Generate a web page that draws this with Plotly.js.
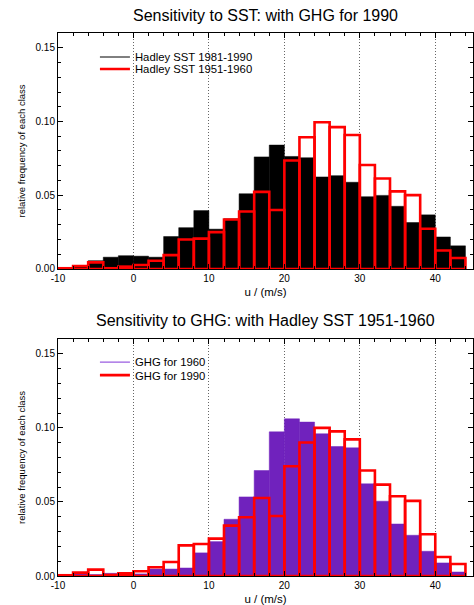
<!DOCTYPE html>
<html>
<head>
<meta charset="utf-8">
<script src="https://cdn.plot.ly/plotly-3.0.1.min.js"></script>
<style>html,body{margin:0;padding:0;background:#fff;}#chart{width:474px;height:605px;}</style>
</head>
<body>
<div id="chart"></div>
<script>
// bin centres (bin width 2, from -10 to 44)
const binCentres = [-9,-7,-5,-3,-1,1,3,5,7,9,11,13,15,17,19,21,23,25,27,29,31,33,35,37,39,41,43];
// top panel: Sensitivity to SST (with GHG for 1990)
const hadley1981_1990 = [0.001,0.002,0.0056,0.008,0.009,0.0087,0.008,0.022,0.028,0.0396,0.027,0.034,0.051,0.076,0.084,0.0763,0.0754,0.0624,0.0633,0.0588,0.049,0.0499,0.0425,0.0315,0.0367,0.0217,0.0157];
const hadley1951_1960 = [0.0005,0.002,0.0045,0.0005,0.0016,0.0027,0.0056,0.0094,0.020,0.0206,0.025,0.0336,0.039,0.0523,0.040,0.0736,0.0893,0.0995,0.0962,0.0908,0.0705,0.0613,0.0526,0.0501,0.0273,0.0125,0.0074];
// bottom panel: Sensitivity to GHG (with Hadley SST 1951-1960)
const ghg1960 = [0.0005,0.002,0.001,0.0018,0.0016,0.0014,0.0047,0.0047,0.0054,0.0156,0.0232,0.0383,0.0534,0.0712,0.0973,0.1061,0.1039,0.096,0.0874,0.0865,0.0622,0.0505,0.0351,0.0275,0.0167,0.0088,0.0027];
const ghg1990 = [0.0005,0.0023,0.0043,0.0007,0.0018,0.0032,0.0059,0.0095,0.0207,0.0216,0.0252,0.034,0.0397,0.0527,0.0405,0.0741,0.0901,0.1,0.0976,0.0922,0.0712,0.0617,0.0538,0.0507,0.0282,0.0128,0.0081];
const xTicks = [-10,0,10,20,30,40];
const yTicks = [0,0.05,0.10,0.15];
const titleTop = 'Sensitivity to SST: with GHG for 1990';
const titleBottom = 'Sensitivity to GHG: with Hadley SST 1951-1960';
const xLabel = 'u / (m/s)';
const yLabel = 'relative frequency of each class';
const seriesNames = ['Hadley SST 1981-1990','Hadley SST 1951-1960','GHG for 1960','GHG for 1990'];

const RED = '#ff0000', PURPLE = '#7022bd';
const FONT = 'Liberation Sans, Arial, sans-serif';

const traces = [
  {type:'bar', x:binCentres, y:hadley1981_1990, width:2, xaxis:'x', yaxis:'y', showlegend:false,
   marker:{color:'#000', line:{color:'#000', width:0.5}}},
  {type:'bar', x:binCentres, y:hadley1951_1960, width:2, xaxis:'x', yaxis:'y', showlegend:false,
   marker:{color:'rgba(0,0,0,0)', line:{color:RED, width:2.6}}},
  {type:'scatter', mode:'lines', x:[null], y:[null], xaxis:'x', yaxis:'y', name:seriesNames[0],
   line:{color:'#000', width:1}, legend:'legend'},
  {type:'scatter', mode:'lines', x:[null], y:[null], xaxis:'x', yaxis:'y', name:seriesNames[1],
   line:{color:RED, width:2.6}, legend:'legend2'},
  {type:'bar', x:binCentres, y:ghg1960, width:2, xaxis:'x2', yaxis:'y2', showlegend:false,
   marker:{color:PURPLE, line:{color:PURPLE, width:0.5}}},
  {type:'bar', x:binCentres, y:ghg1990, width:2, xaxis:'x2', yaxis:'y2', showlegend:false,
   marker:{color:'rgba(0,0,0,0)', line:{color:RED, width:2.6}}},
  {type:'scatter', mode:'lines', x:[null], y:[null], xaxis:'x2', yaxis:'y2', name:seriesNames[2],
   line:{color:'#9a5ce0', width:1.2}, legend:'legend3'},
  {type:'scatter', mode:'lines', x:[null], y:[null], xaxis:'x2', yaxis:'y2', name:seriesNames[3],
   line:{color:RED, width:2.6}, legend:'legend4'}
];

function xa(anchor){
  return {range:[-10,45], tickvals:xTicks, ticktext:xTicks.map(String), ticks:'inside', ticklen:5,
    tickcolor:'#000', showline:true, linecolor:'#000', linewidth:1, mirror:'allticks',
    showgrid:true, gridcolor:'#666', griddash:'1px,2px', gridwidth:1, zeroline:false,
    minor:{dtick:2, tick0:0, ticks:'inside', ticklen:3, tickcolor:'#000', showgrid:false},
    tickfont:{family:FONT, size:10, color:'#000'}, anchor:anchor,
    title:{text:xLabel, font:{family:FONT, size:11.5, color:'#000'}, standoff:4}};
}
function ya(domain, anchor){
  return {domain:domain, range:[0,0.16], tickvals:yTicks, ticktext:yTicks.map(v=>v.toFixed(2)),
    ticks:'inside', ticklen:5, tickcolor:'#000', showline:true, linecolor:'#000', linewidth:1,
    mirror:'allticks', showgrid:false, zeroline:false, anchor:anchor,
    minor:{dtick:0.01, tick0:0, ticks:'inside', ticklen:3, tickcolor:'#000', showgrid:false},
    tickfont:{family:FONT, size:10, color:'#000'},
    title:{text:yLabel, font:{family:FONT, size:9.5, color:'#000'}, standoff:8}};
}
function leg(y){
  return {x:0.089, y:y, xanchor:'left', yanchor:'middle', bgcolor:'rgba(0,0,0,0)',
    font:{family:FONT, size:11.3, color:'#000'}, itemwidth:30, borderwidth:0};
}

const layout = {
  width:474, height:605,
  margin:{l:58, r:1, t:33, b:29},
  paper_bgcolor:'#fff', plot_bgcolor:'#fff',
  barmode:'overlay', bargap:0,
  font:{family:FONT, color:'#000'},
  xaxis: xa('y'),
  yaxis: ya([0.5654,1],'x'),
  xaxis2: xa('y2'),
  yaxis2: ya([0,0.4365],'x2'),
  legend: leg(0.9558),
  legend2: leg(0.9337),
  legend3: leg(0.394),
  legend4: leg(0.370),
  annotations:[
    {text:titleTop, xref:'paper', yref:'paper', x:0.5, y:1, yshift:18, showarrow:false,
     xanchor:'center', yanchor:'middle', font:{family:FONT, size:16, color:'#000'}},
    {text:titleBottom, xref:'paper', yref:'paper', x:0.5, y:0.4365, yshift:18, showarrow:false,
     xanchor:'center', yanchor:'middle', font:{family:FONT, size:16, color:'#000'}}
  ]
};
Plotly.newPlot('chart', traces, layout, {displayModeBar:false, staticPlot:true});
</script>
</body>
</html>
